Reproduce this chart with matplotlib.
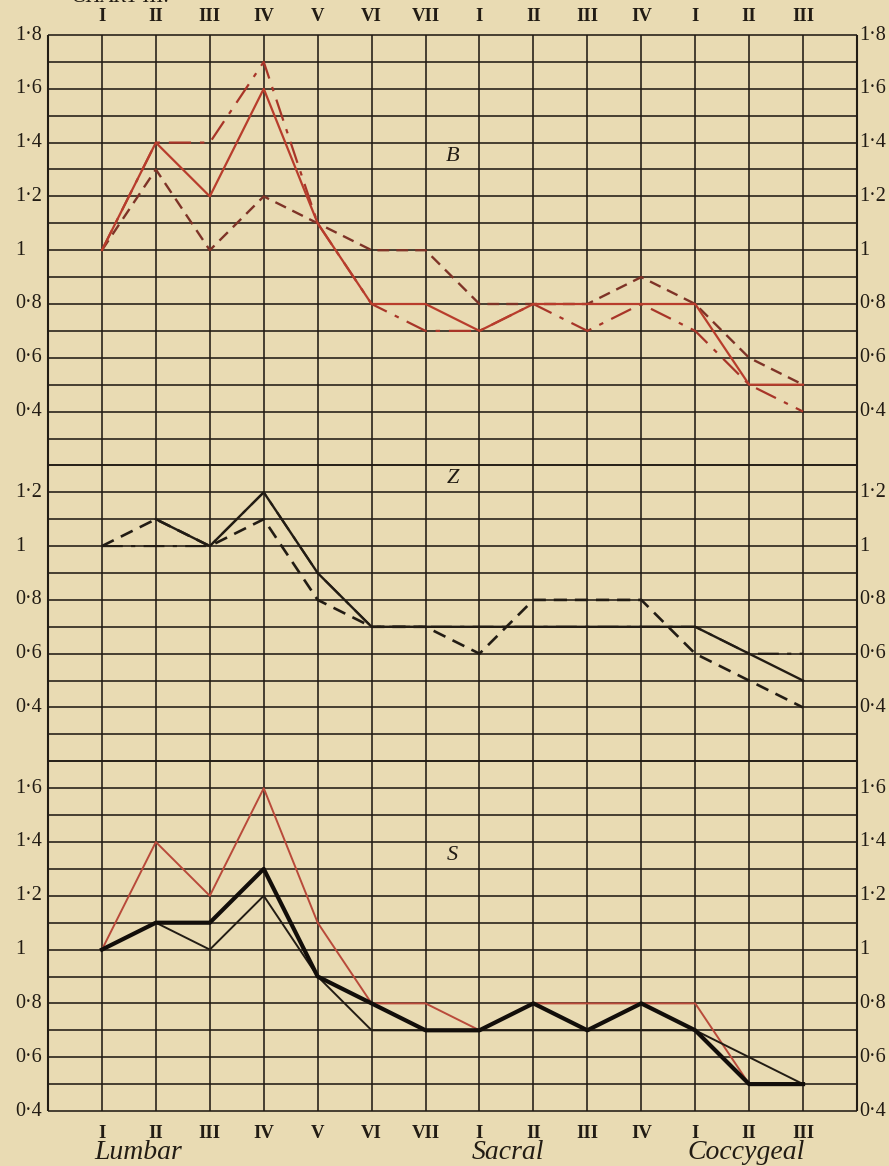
import matplotlib
matplotlib.use("Agg")
import matplotlib.pyplot as plt
import matplotlib.transforms as mtransforms
import numpy as np

# ---------------- data ----------------
positions = [1, 2, 3, 4, 5, 6, 7, 8, 9, 10, 11, 12, 13, 14]
vertebra_labels = ["I", "II", "III", "IV", "V", "VI", "VII",
                   "I", "II", "III", "IV", "I", "II", "III"]
region_labels = ["Lumbar", "Sacral", "Coccygeal"]
region_start = [1, 8, 12]

B_solid = [1.0, 1.4, 1.2, 1.6, 1.1, 0.8, 0.8, 0.7, 0.8, 0.8, 0.8, 0.8, 0.5, 0.5]
B_dashdot = [1.0, 1.4, 1.4, 1.7, 1.1, 0.8, 0.7, 0.7, 0.8, 0.7, 0.8, 0.7, 0.5, 0.4]
B_dashed = [1.0, 1.3, 1.0, 1.2, 1.1, 1.0, 1.0, 0.8, 0.8, 0.8, 0.9, 0.8, 0.6, 0.5]

Z_solid = [np.nan, 1.1, 1.0, 1.2, 0.9, 0.7, 0.7, 0.7, 0.7, 0.7, 0.7, 0.7, 0.6, 0.5]
Z_dashed = [1.0, 1.1, 1.0, 1.1, 0.8, 0.7, 0.7, 0.6, 0.8, 0.8, 0.8, 0.6, 0.5, 0.4]
Z_dashdot = [1.0, 1.0, 1.0, 1.2, 0.9, 0.7, 0.7, 0.7, 0.7, 0.7, 0.7, 0.7, 0.6, 0.6]

S_red = [1.0, 1.4, 1.2, 1.6, 1.1, 0.8, 0.8, 0.7, 0.8, 0.8, 0.8, 0.8, 0.5, 0.5]
S_thick = [1.0, 1.1, 1.1, 1.3, 0.9, 0.8, 0.7, 0.7, 0.8, 0.7, 0.8, 0.7, 0.5, 0.5]
S_thin = [1.0, 1.1, 1.0, 1.2, 0.9, 0.7, 0.7, 0.7, 0.7, 0.7, 0.7, 0.7, 0.6, 0.5]

B_ticks = [1.8, 1.6, 1.4, 1.2, 1.0, 0.8, 0.6, 0.4]
Z_ticks = [1.2, 1.0, 0.8, 0.6, 0.4]
S_ticks = [1.6, 1.4, 1.2, 1.0, 0.8, 0.6, 0.4]

# ---------------- layout ----------------
W, H = 889, 1166
bg = "#e9dbb3"
ink = "#221c14"
red = "#b83d2c"
brown = "#7e3327"
serif = ["Liberation Serif", "DejaVu Serif"]

fig = plt.figure(figsize=(W / 100, H / 100), dpi=100)
fig.patch.set_facecolor(bg)

x_left, x_right = 48, 857
y_top, y_bot = 35, 1111
row = (y_bot - y_top) / 40.0

panels = [
    # (ymin, ymax, first row, last row)
    (0.2, 1.8, 0, 16),
    (0.2, 1.3, 16, 27),
    (0.4, 1.7, 27, 40),
]

axes = []
for lo, hi, k0, k1 in panels:
    top_px = y_top + k0 * row
    bot_px = y_top + k1 * row
    ax = fig.add_axes([x_left / W, 1 - bot_px / H, (x_right - x_left) / W,
                       (bot_px - top_px) / H])
    ax.set_facecolor("none")
    ax.set_xlim(0, 15)
    ax.set_ylim(lo, hi)
    for s in ax.spines.values():
        s.set_visible(False)
    gy = np.round(np.arange(lo, hi + 1e-6, 0.1), 2)
    ax.hlines(gy, 0, 15, color=ink, lw=1.15, clip_on=False, zorder=1)
    ax.vlines(positions, lo, hi, color=ink, lw=1.15, clip_on=False, zorder=1)
    ax.vlines([0, 15], lo, hi, color=ink, lw=1.5, clip_on=False, zorder=1)
    ax.set_yticks([])
    ax.tick_params(length=0)
    axes.append(ax)

axB, axZ, axS = axes


def fmt(v):
    if abs(v - 1.0) < 1e-9:
        return "1"
    return ("%.1f" % v).replace(".", "\u00b7")


for ax, ticks in [(axB, B_ticks), (axZ, Z_ticks), (axS, S_ticks)]:
    tr = ax.get_yaxis_transform()
    for v in ticks:
        ax.text(-0.041, v, fmt(v), transform=tr, ha="left", va="center",
                fontsize=14.5, family=serif, color=ink)
        ax.text(1.003, v, fmt(v), transform=tr, ha="left", va="center",
                fontsize=14.5, family=serif, color=ink)

# x tick labels (roman numerals)
axB.set_xticks(positions)
axB.set_xticklabels(vertebra_labels, family=serif, fontsize=13.5,
                    fontweight="bold", color=ink)
axB.tick_params(axis="x", labeltop=True, labelbottom=False, length=0, pad=7)
axZ.set_xticks([])
axS.set_xticks(positions)
axS.set_xticklabels(vertebra_labels, family=serif, fontsize=13.5,
                    fontweight="bold", color=ink)
axS.tick_params(axis="x", labeltop=False, labelbottom=True, length=0, pad=10)

# region labels
trS = mtransforms.blended_transform_factory(axS.transData, axS.transAxes)
for lab, st in zip(region_labels, region_start):
    axS.text(st - 0.15, -0.118, lab, transform=trS, ha="left", va="center",
             fontsize=20, family=serif, style="italic", color=ink)

# ---------------- curves ----------------
# B panel (red inks)
axB.plot(positions, B_dashed, color=brown, lw=1.7, dashes=(5, 3), zorder=3)
axB.plot(positions, B_dashdot, color="#a83528", lw=1.6,
         dashes=(10, 4, 2, 4), zorder=3)
axB.plot(positions, B_solid, color=red, lw=1.6, zorder=4)

# Z panel (black)
axZ.plot(positions, Z_dashdot, color=ink, lw=1.5, dashes=(10, 4, 2, 4), zorder=3)
axZ.plot(positions, Z_dashed, color=ink, lw=1.9, dashes=(5, 3), zorder=3)
axZ.plot(positions, Z_solid, color=ink, lw=1.7, zorder=4)

# S panel
axS.plot(positions, S_red, color="#b94a3a", lw=1.4, zorder=3)
axS.plot(positions, S_thin, color=ink, lw=1.4, zorder=4)
axS.plot(positions, S_thick, color="#120e0a", lw=3.0, zorder=5)

# panel letters
axB.text(7.5, 1.35, "B", ha="center", va="center", fontsize=16,
         family=serif, style="italic", color=ink)
axZ.text(7.5, 1.25, "Z", ha="center", va="center", fontsize=16,
         family=serif, style="italic", color=ink)
axS.text(7.5, 1.35, "S", ha="center", va="center", fontsize=16,
         family=serif, style="italic", color=ink)

# chart title, cut off at the very top as in the scan
fig.text(72 / W, 1 + 3 / H, "CHART III.", ha="left", va="center",
         fontsize=15, family=serif, style="italic", color=ink)

fig.savefig("out.png", dpi=100, facecolor=bg)
